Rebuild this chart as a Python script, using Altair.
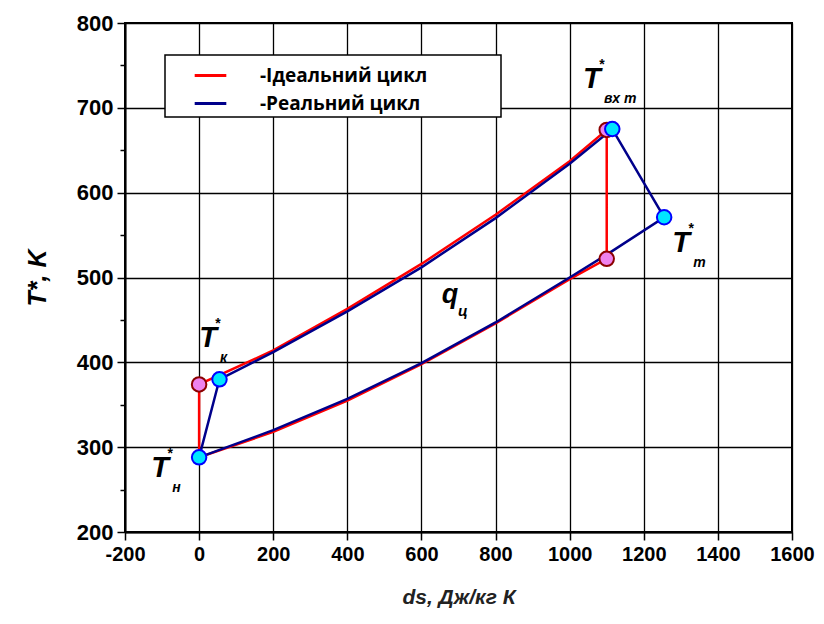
import altair as alt
import pandas as pd

# Ideal cycle (s, T) in drawing order
ideal_s = [0, 0, 200, 400, 600, 800, 1000, 1100, 1100, 1000, 800, 600, 400, 200, 0]
ideal_T = [288, 374, 414, 463, 516, 574, 637, 674, 522, 498, 446, 398, 355, 318, 288]
# Real cycle
real_s = [0, 55, 200, 400, 600, 800, 1000, 1115, 1255, 1100, 1000, 800, 600, 400, 200, 0]
real_T = [288, 380, 412, 460, 512, 570, 634, 675, 571, 527, 500, 447, 399, 357, 320, 288]

# marked state points
ideal_pts_s = [0, 1100, 1100]
ideal_pts_T = [374, 674, 522]
real_pts_s = [0, 55, 1115, 1255]
real_pts_T = [288, 380, 675, 571]

series = ["-Ідеальний цикл", "-Реальний цикл"]

# annotation labels
lab_s = [1060, 1301, 24, -105]
lab_T = [734, 541, 429, 276]
lab_sub = ["вх т", "т", "к", "н"]
q_s = [677]
q_T = [479]

pad = "\u2800" * 5
series_lbl = [s + pad for s in series]

lines = pd.concat([
    pd.DataFrame({"s": ideal_s, "T": ideal_T, "series": series_lbl[0], "ord": range(len(ideal_s))}),
    pd.DataFrame({"s": real_s, "T": real_T, "series": series_lbl[1], "ord": range(len(real_s))}),
])
ideal_pts = pd.DataFrame({"s": ideal_pts_s, "T": ideal_pts_T})
real_pts = pd.DataFrame({"s": real_pts_s, "T": real_pts_T})
labels = pd.DataFrame({"s": lab_s, "T": lab_T, "sub": lab_sub})
qlab = pd.DataFrame({"s": q_s, "T": q_T, "sub": ["ц"]})

FONT = "Liberation Sans"

xs = alt.Scale(domain=[-200, 1600], nice=False)
ys = alt.Scale(domain=[200, 800], nice=False)


def cond(test, a, b):
    return {"condition": {"test": test, "value": a}, "value": b}


xmaj = "datum.value % 200 === 0"
ymaj = "datum.value % 100 === 0"

xax = alt.Axis(values=list(range(-200, 1601, 100)), title="ds, Дж/кг К", grid=True,
               labelExpr="datum.value % 200 === 0 ? (datum.value < 0 ? '-' + abs(datum.value) : '' + datum.value) : ''",
               gridOpacity=cond(xmaj, 1, 0), tickSize=cond(xmaj, 8, 5),
               titleFont=FONT, titleFontSize=21, titleFontWeight="bold", titleFontStyle="italic",
               titleColor="#222", titlePadding=22,
               labelFont=FONT, labelFontSize=20, labelFontWeight="bold", labelColor="black",
               labelPadding=4, tickColor="black", tickWidth=1.5,
               domainColor="black", domainWidth=2, labelFlush=False)
yax = alt.Axis(values=list(range(200, 801, 50)), title="T*, K", grid=True,
               labelExpr="datum.value % 100 === 0 ? '' + datum.value : ''",
               gridOpacity=cond(ymaj, 1, 0), tickSize=cond(ymaj, 8, 5),
               titleFont=FONT, titleFontSize=25, titleFontWeight="bold", titleFontStyle="italic",
               titleColor="black", titlePadding=26,
               labelFont=FONT, labelFontSize=22, labelFontWeight="bold", labelColor="black",
               labelPadding=4, tickColor="black", tickWidth=1.5,
               domainColor="black", domainWidth=2, labelFlush=False)

base_line = alt.Chart(lines).mark_line(strokeWidth=2.5).encode(
    x=alt.X("s:Q", scale=xs, axis=xax),
    y=alt.Y("T:Q", scale=ys, axis=yax),
    color=alt.Color("series:N",
                    scale=alt.Scale(domain=series_lbl, range=["#ff0000", "#00008b"]),
                    legend=alt.Legend(title=None)),
    order="ord:Q",
)

ideal_marks = alt.Chart(ideal_pts).mark_point(
    shape="circle", filled=True, size=210, fill="#ee82ee", stroke="#8b0000", strokeWidth=2, opacity=1
).encode(x=alt.X("s:Q", scale=xs), y=alt.Y("T:Q", scale=ys))

real_marks = alt.Chart(real_pts).mark_point(
    shape="circle", filled=True, size=210, fill="#00e5ff", stroke="#0000ff", strokeWidth=2, opacity=1
).encode(x=alt.X("s:Q", scale=xs), y=alt.Y("T:Q", scale=ys))

t_main = alt.Chart(labels).mark_text(
    text="T", font=FONT, fontSize=29, fontWeight="bold", fontStyle="italic", color="black"
).encode(x=alt.X("s:Q", scale=xs), y=alt.Y("T:Q", scale=ys))
t_star = alt.Chart(labels).mark_text(
    text="*", font=FONT, fontSize=14, fontWeight="bold", color="black", dx=10, dy=-14
).encode(x=alt.X("s:Q", scale=xs), y=alt.Y("T:Q", scale=ys))
t_sub = alt.Chart(labels).mark_text(
    font=FONT, fontSize=14, fontWeight="bold", fontStyle="italic", color="black",
    align="left", dx=12, dy=20
).encode(x=alt.X("s:Q", scale=xs), y=alt.Y("T:Q", scale=ys), text="sub:N")

q_main = alt.Chart(qlab).mark_text(
    text="q", font=FONT, fontSize=27, fontWeight="bold", fontStyle="italic", color="black"
).encode(x=alt.X("s:Q", scale=xs), y=alt.Y("T:Q", scale=ys))
q_sub = alt.Chart(qlab).mark_text(
    font=FONT, fontSize=15, fontWeight="bold", fontStyle="italic", color="black",
    align="left", dx=8, dy=16
).encode(x=alt.X("s:Q", scale=xs), y=alt.Y("T:Q", scale=ys), text="sub:N")

chart = alt.layer(base_line, ideal_marks, real_marks, t_main, t_star, t_sub, q_main, q_sub).properties(
    width=667, height=509,
    autosize=alt.AutoSizeParams(type="none"),
    padding={"left": 125, "top": 23, "right": 32, "bottom": 92},
    background="white",
).configure_view(
    stroke="black", strokeWidth=2
).configure_axis(
    gridColor="black", gridWidth=1.3
).configure_legend(
    orient="none", legendX=40, legendY=32,
    fillColor="white", strokeColor="black", strokeWidth=1.5,
    padding=3, symbolType="stroke", symbolStrokeWidth=3, symbolSize=1000,
    labelFont="Open Sans", labelFontSize=19, labelFontWeight="bold", labelColor="black",
    rowPadding=0, labelOffset=32, labelLimit=600, symbolOffset=25,
)

chart.save("out.html", embed_options={"renderer": "svg", "actions": False})
